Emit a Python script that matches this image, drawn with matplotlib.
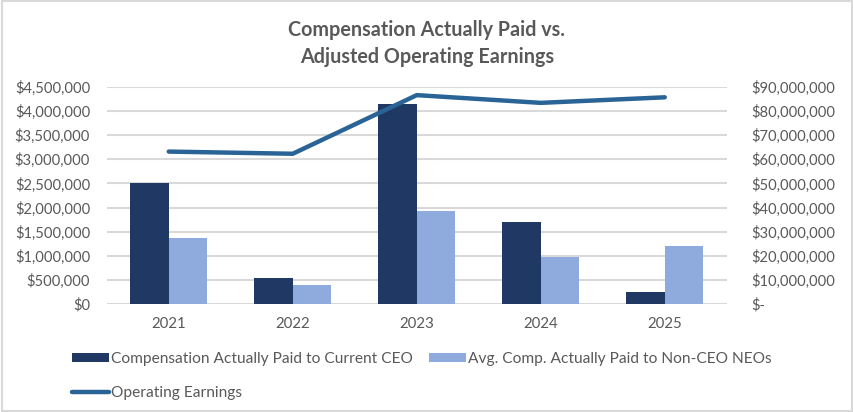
import matplotlib
matplotlib.use("Agg")
import matplotlib.pyplot as plt
import numpy as np
from matplotlib.ticker import FuncFormatter
from matplotlib.patches import Rectangle

years = ["2021", "2022", "2023", "2024", "2025"]
ceo_cap = [2500000, 545000, 4140000, 1700000, 255000]
neo_cap = [1370000, 400000, 1930000, 980000, 1200000]
op_earn = [63200000, 62300000, 86600000, 83400000, 85700000]
left_ticks = [0, 500000, 1000000, 1500000, 2000000, 2500000, 3000000, 3500000, 4000000, 4500000]
right_ticks = [0, 10000000, 20000000, 30000000, 40000000, 50000000, 60000000, 70000000, 80000000, 90000000]

FONT = "Lato"
GREY = "#595959"
plt.rcParams['font.family'] = [FONT, 'DejaVu Sans']

fig = plt.figure(figsize=(8.54, 4.12), dpi=100)
fig.patches.append(Rectangle((0.002, 0.003), 0.996, 0.994, transform=fig.transFigure,
                             fill=False, edgecolor="#d9d9d9", linewidth=1.5))
ax = fig.add_axes([0.125, 0.262, 0.726, 0.527])
ax2 = ax.twinx()

x = np.arange(len(years))
w = 0.31
b1 = ax.bar(x - w / 2, ceo_cap, w, color="#203864", label="Compensation Actually Paid to Current CEO", zorder=3)
b2 = ax.bar(x + w / 2, neo_cap, w, color="#8faadc", label="Avg. Comp. Actually Paid to Non-CEO NEOs", zorder=3)
l1, = ax2.plot(x, op_earn, color="#2a6496", linewidth=3.2, solid_capstyle="round",
               label="Operating Earnings", zorder=4)

ax.set_xlim(-0.5, len(years) - 0.5)
ax.set_ylim(0, 4500000)
ax2.set_ylim(0, 90000000)
ax.set_yticks(left_ticks)
ax2.set_yticks(right_ticks)
ax.set_xticks(x)
ax.set_xticklabels(years)
ax.yaxis.set_major_formatter(FuncFormatter(lambda v, p: "${:,.0f}".format(v)))
ax2.yaxis.set_major_formatter(FuncFormatter(lambda v, p: "$-" if v == 0 else "${:,.0f}".format(v)))
for s in ax.spines.values():
    s.set_visible(False)
for s in ax2.spines.values():
    s.set_visible(False)
ax.grid(axis="y", color="#d9d9d9", linewidth=1.5, zorder=0)
ax.set_axisbelow(True)
ax.tick_params(axis="y", length=0, labelsize=10.6, labelcolor=GREY, pad=12)
ax.tick_params(axis="x", length=0, labelsize=10.8, labelcolor=GREY, pad=9)
ax2.tick_params(axis="y", length=0, labelsize=10.6, labelcolor=GREY, pad=18)
for lab in ax2.get_yticklabels():
    lab.set_horizontalalignment("left")

fig.text(0.5, 0.895, "Compensation Actually Paid vs.\nAdjusted Operating Earnings", ha="center", va="center",
         fontsize=14.2, fontweight="bold", color=GREY, linespacing=1.45)

leg = fig.legend([b1, l1, b2], [b1.get_label(), l1.get_label(), b2.get_label()],
                 ncol=2, loc="center left", bbox_to_anchor=(0.084, 0.087), frameon=False,
                 fontsize=11.2, handlelength=2.4, handleheight=0.5, handletextpad=0.15,
                 columnspacing=1.0, labelspacing=1.3, borderaxespad=0, borderpad=0)
for t in leg.get_texts():
    t.set_color(GREY)

fig.savefig("out.png", dpi=100)
